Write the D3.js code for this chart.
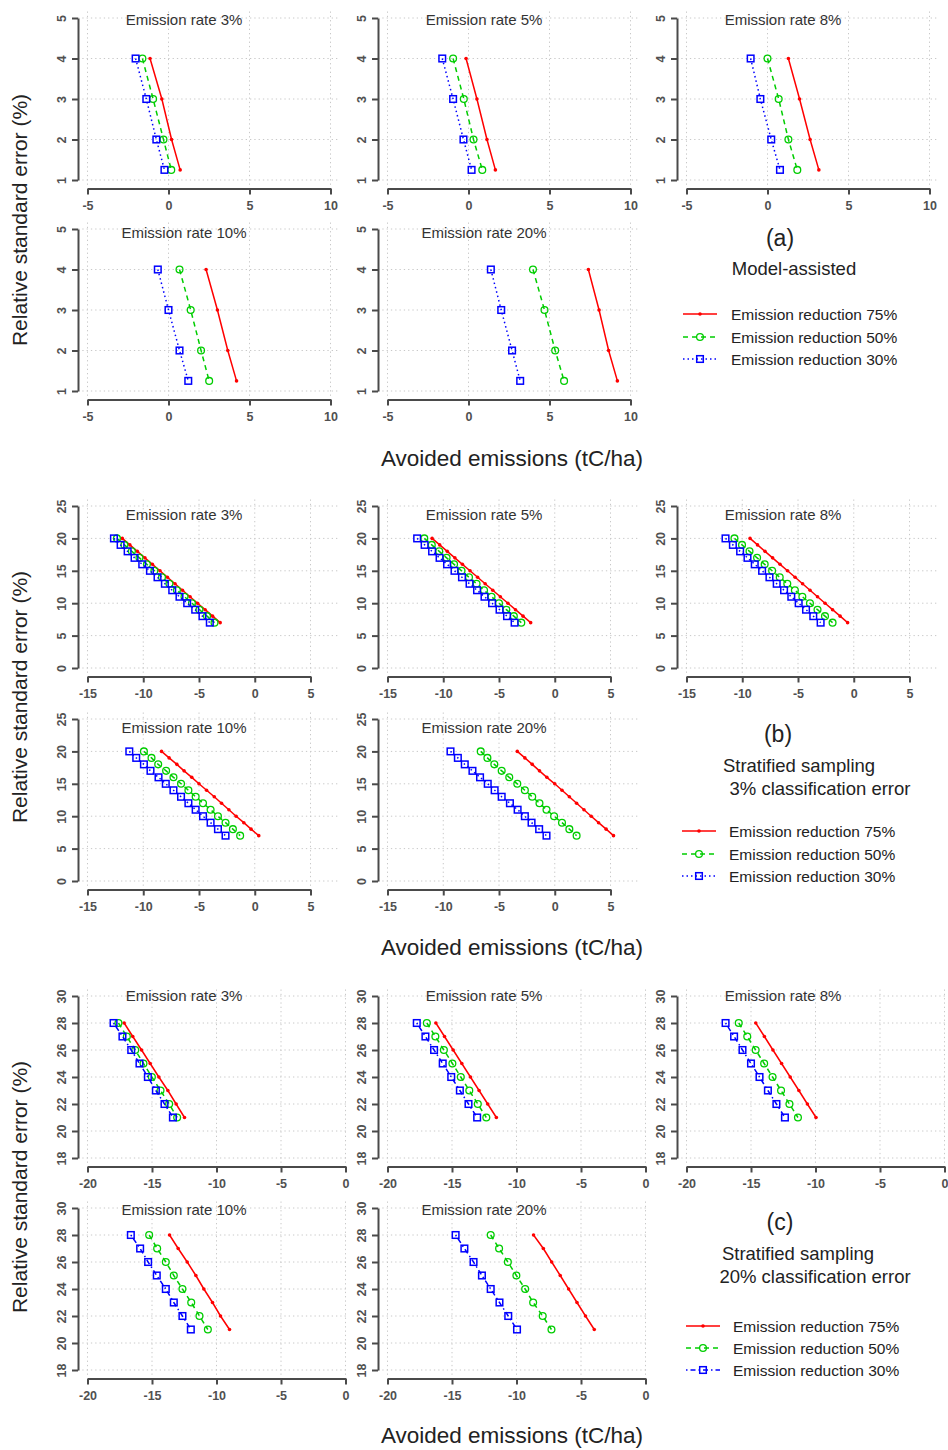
<!DOCTYPE html>
<html>
<head>
<meta charset="utf-8">
<script src="https://cdn.jsdelivr.net/npm/d3@7"></script>
<style>
body { margin: 0; background: #fff; }
svg text { font-family: "Liberation Sans", Arial, sans-serif; }
</style>
</head>
<body>
<svg id="chart" width="948" height="1450"></svg>
<script>
// emission rate titles, one per sub-plot
var rateTitles = ["Emission rate 3%", "Emission rate 5%", "Emission rate 8%",
                  "Emission rate 10%", "Emission rate 20%"];
var seriesNames = ["Emission reduction 75%", "Emission reduction 50%", "Emission reduction 30%"];

// (a) model-assisted
var aRse = [4, 3, 2, 1.25];
var aXTicks = [-5, 0, 5, 10];
var aYTicks = [1, 2, 3, 4, 5];
var aRed = [
    [-1.14, -0.41, 0.19, 0.72],
    [-0.15, 0.52, 1.14, 1.66],
    [1.29, 1.98, 2.63, 3.17],
    [2.32, 3.02, 3.66, 4.20],
    [7.40, 8.06, 8.65, 9.19]];
var aGreen = [
    [-1.61, -0.95, -0.31, 0.17],
    [-0.95, -0.29, 0.31, 0.85],
    [0.00, 0.69, 1.29, 1.84],
    [0.68, 1.37, 2.01, 2.51],
    [3.98, 4.69, 5.35, 5.90]];
var aBlue = [
    [-2.03, -1.37, -0.75, -0.25],
    [-1.62, -0.95, -0.31, 0.19],
    [-1.04, -0.44, 0.23, 0.77],
    [-0.66, 0.00, 0.68, 1.22],
    [1.38, 2.02, 2.69, 3.19]];

// (b) stratified sampling, 3% classification error
var bRse = [20, 19, 18, 17, 16, 15, 14, 13, 12, 11, 10, 9, 8, 7];
var bXTicks = [-15, -10, -5, 0, 5];
var bYTicks = [0, 5, 10, 15, 20, 25];
var bRed = [
    [-11.88, -11.20, -10.53, -9.85, -9.18, -8.50, -7.83, -7.15, -6.48, -5.80, -5.13, -4.45, -3.78, -3.10],
    [-11.00, -10.32, -9.64, -8.96, -8.28, -7.60, -6.92, -6.24, -5.56, -4.88, -4.20, -3.52, -2.84, -2.16],
    [-9.30, -8.63, -7.96, -7.28, -6.61, -5.94, -5.26, -4.59, -3.92, -3.25, -2.57, -1.90, -1.22, -0.55],
    [-8.36, -7.68, -6.99, -6.34, -5.65, -5.00, -4.32, -3.63, -2.98, -2.32, -1.67, -0.98, -0.33, 0.36],
    [-3.36, -2.68, -2.02, -1.37, -0.71, 0.00, 0.65, 1.31, 1.96, 2.62, 3.27, 3.93, 4.61, 5.27]];
var bGreen = [
    [-12.36, -11.69, -11.02, -10.34, -9.67, -9.00, -8.32, -7.65, -6.98, -6.30, -5.63, -4.96, -4.28, -3.61],
    [-11.70, -11.03, -10.36, -9.70, -9.03, -8.36, -7.69, -7.01, -6.34, -5.67, -5.00, -4.34, -3.67, -3.00],
    [-10.70, -10.02, -9.35, -8.67, -7.99, -7.32, -6.64, -5.96, -5.28, -4.61, -3.93, -3.25, -2.58, -1.90],
    [-9.94, -9.26, -8.66, -7.95, -7.29, -6.61, -5.95, -5.30, -4.64, -3.96, -3.30, -2.62, -1.96, -1.31],
    [-6.64, -6.04, -5.42, -4.76, -4.08, -3.36, -2.68, -2.02, -1.37, -0.74, -0.06, 0.65, 1.31, 1.96]];
var bBlue = [
    [-12.63, -12.03, -11.40, -10.78, -10.09, -9.40, -8.72, -8.06, -7.40, -6.75, -6.06, -5.34, -4.69, -4.03],
    [-12.34, -11.67, -11.00, -10.33, -9.66, -8.99, -8.32, -7.64, -6.97, -6.30, -5.62, -4.95, -4.28, -3.60],
    [-11.50, -10.84, -10.19, -9.53, -8.88, -8.22, -7.56, -6.91, -6.25, -5.60, -4.94, -4.28, -3.63, -2.97],
    [-11.25, -10.63, -9.94, -9.35, -8.63, -7.98, -7.29, -6.61, -5.95, -5.30, -4.64, -3.96, -3.30, -2.62],
    [-9.35, -8.69, -8.07, -7.38, -6.70, -6.01, -5.39, -4.76, -4.02, -3.33, -2.68, -2.08, -1.40, -0.74]];

// (c) stratified sampling, 20% classification error
var cRse = [28, 27, 26, 25, 24, 23, 22, 21];
var cXTicks = [-20, -15, -10, -5, 0];
var cYTicks = [18, 20, 22, 24, 26, 28, 30];
var cRed = [
    [-17.16, -16.49, -15.81, -15.14, -14.47, -13.77, -13.13, -12.48],
    [-16.25, -15.58, -14.91, -14.24, -13.57, -12.90, -12.23, -11.56],
    [-14.63, -13.96, -13.30, -12.63, -11.96, -11.29, -10.63, -9.96],
    [-13.64, -12.97, -12.27, -11.60, -10.98, -10.31, -9.69, -8.99],
    [-8.68, -7.92, -7.27, -6.61, -5.96, -5.31, -4.65, -3.97]];
var cGreen = [
    [-17.60, -16.95, -16.30, -15.66, -15.01, -14.34, -13.67, -13.05],
    [-16.95, -16.29, -15.63, -14.97, -14.32, -13.66, -13.00, -12.34],
    [-15.95, -15.29, -14.64, -13.98, -13.33, -12.67, -12.02, -11.36],
    [-15.22, -14.60, -13.93, -13.31, -12.64, -11.96, -11.32, -10.67],
    [-12.00, -11.35, -10.67, -10.01, -9.33, -8.71, -7.97, -7.29]];
var cBlue = [
    [-17.98, -17.29, -16.61, -15.97, -15.32, -14.70, -14.03, -13.38],
    [-17.73, -17.06, -16.39, -15.72, -15.06, -14.39, -13.72, -13.05],
    [-16.97, -16.31, -15.66, -15.00, -14.34, -13.69, -13.03, -12.37],
    [-16.64, -15.92, -15.30, -14.63, -13.93, -13.31, -12.64, -11.99],
    [-14.72, -14.04, -13.33, -12.68, -12.00, -11.32, -10.64, -9.96]];


var svg = d3.select("#chart");
var colX = [78, 378, 677];
var ySpan = 162;

var styles = [
    {color: "#ff0000", dash: null, mark: "dot"},
    {color: "#00cd00", dash: "5,4", mark: "circle"},
    {color: "#0000ff", dash: "1.5,3", mark: "square"}];

var panels = [
    {rows: [18, 229], rse: aRse, xt: aXTicks, yt: aYTicks, xSpan: 243, gridR: 262,
     series: [aRed, aGreen, aBlue], titleY: [20, 233],
     ylab: 220, xlab: 458, blueDash: "1.5,3",
     caps: [["(a)", 780, 238, 23], ["Model-assisted", 794, 269, 18.5]],
     legend: {x: 683, tx: 731, y: [314, 337, 359]}},
    {rows: [506, 719], rse: bRse, xt: bXTicks, yt: bYTicks, xSpan: 223, gridR: 262,
     series: [bRed, bGreen, bBlue], titleY: [515, 728],
     ylab: 697, xlab: 947, blueDash: "1.5,3",
     caps: [["(b)", 778, 734, 23], ["Stratified sampling", 799, 766, 18.5],
            ["3% classification error", 820, 789, 18.5]],
     legend: {x: 682, tx: 729, y: [831, 854, 876]}},
    {rows: [996, 1208], rse: cRse, xt: cXTicks, yt: cYTicks, xSpan: 258, gridR: 270,
     series: [cRed, cGreen, cBlue], titleY: [996, 1210],
     ylab: 1187, xlab: 1435, blueDash: "1.5,3,5,3",
     caps: [["(c)", 780, 1222, 23], ["Stratified sampling", 798, 1254, 18.5],
            ["20% classification error", 815, 1277, 18.5]],
     legend: {x: 686, tx: 733, y: [1326, 1348, 1370]}}];

function plain(d) { return String(d); }

function drawMarker(g, kind, cx, cy, color) {
    if (kind === "dot") {
        g.append("circle").attr("cx", cx).attr("cy", cy).attr("r", 1.8)
            .attr("fill", color);
    } else if (kind === "circle") {
        g.append("circle").attr("cx", cx).attr("cy", cy).attr("r", 3.4)
            .attr("fill", "none").attr("stroke", color).attr("stroke-width", 1.3);
    } else {
        g.append("rect").attr("x", cx - 3.3).attr("y", cy - 3.3)
            .attr("width", 6.6).attr("height", 6.6)
            .attr("fill", "none").attr("stroke", color).attr("stroke-width", 1.5);
    }
}

function drawSubplot(p, k) {
    var row = k < 3 ? 0 : 1, col = k % 3;
    var ox = colX[col], top = p.rows[row];
    var g = svg.append("g");
    var x = d3.scaleLinear()
        .domain([p.xt[0], p.xt[p.xt.length - 1]])
        .range([ox + 9.5, ox + 9.5 + p.xSpan]);
    var y = d3.scaleLinear()
        .domain([p.yt[0], p.yt[p.yt.length - 1]])
        .range([top + ySpan, top]);

    // dotted grid
    g.selectAll(".vg").data(p.xt).enter().append("line")
        .attr("x1", function (d) { return x(d); }).attr("x2", function (d) { return x(d); })
        .attr("y1", top - 6.5).attr("y2", top + ySpan + 6.5)
        .attr("stroke", "#c8c8c8").attr("stroke-dasharray", "1.3,3");
    g.selectAll(".hg").data(p.yt).enter().append("line")
        .attr("x1", ox).attr("x2", ox + p.gridR)
        .attr("y1", function (d) { return y(d); }).attr("y2", function (d) { return y(d); })
        .attr("stroke", "#c8c8c8").attr("stroke-dasharray", "1.3,3");

    // axes
    var ya = g.append("g").attr("transform", "translate(" + ox + ",0)")
        .call(d3.axisLeft(y).tickValues(p.yt).tickFormat(plain)
            .tickSizeInner(6).tickSizeOuter(0));
    ya.selectAll("text").attr("transform", "rotate(-90)")
        .attr("x", 0).attr("y", -12).attr("dy", 0).style("text-anchor", "middle");
    var xa = g.append("g").attr("transform", "translate(0," + (top + ySpan + 8.5) + ")")
        .call(d3.axisBottom(x).tickValues(p.xt).tickFormat(plain)
            .tickSizeInner(6).tickSizeOuter(0));
    xa.selectAll("text").attr("y", 13);
    [ya, xa].forEach(function (a) {
        a.select(".domain").attr("stroke", "#4a4a4a").attr("stroke-width", 2);
        a.selectAll(".tick line").attr("stroke", "#4a4a4a").attr("stroke-width", 2);
        a.selectAll("text").attr("fill", "#505050").style("font-size", "12.5px")
            .style("font-weight", "bold")
            .style("font-family", "\"Liberation Sans\", Arial, sans-serif");
    });

    g.append("text").attr("x", ox + 106).attr("y", p.titleY[row] + 5)
        .attr("text-anchor", "middle").attr("fill", "#333")
        .style("font-size", "15px").text(rateTitles[k]);

    // series
    p.series.forEach(function (s, j) {
        var st = styles[j];
        var pts = s[k].map(function (v, i) { return [x(v), y(p.rse[i])]; });
        g.append("path").attr("d", d3.line()(pts))
            .attr("fill", "none").attr("stroke", st.color).attr("stroke-width", 1.5)
            .attr("stroke-dasharray", j === 2 ? p.blueDash : st.dash);
        pts.forEach(function (pt) { drawMarker(g, st.mark, pt[0], pt[1], st.color); });
    });
}

function drawLegend(p) {
    var lg = svg.append("g");
    p.caps.forEach(function (c) {
        lg.append("text").attr("x", c[1]).attr("y", c[2] + c[3] * 0.35)
            .attr("text-anchor", "middle").attr("fill", "#222")
            .style("font-size", c[3] + "px").text(c[0]);
    });
    seriesNames.forEach(function (name, j) {
        var st = styles[j], yy = p.legend.y[j];
        lg.append("line").attr("x1", p.legend.x).attr("x2", p.legend.x + 34)
            .attr("y1", yy).attr("y2", yy)
            .attr("stroke", st.color).attr("stroke-width", 1.5)
            .attr("stroke-dasharray", j === 2 ? p.blueDash : st.dash);
        drawMarker(lg, st.mark, p.legend.x + 17, yy, st.color);
        lg.append("text").attr("x", p.legend.tx).attr("y", yy + 5.5)
            .attr("fill", "#222").style("font-size", "15.5px").text(name);
    });
}

panels.forEach(function (p) {
    var k;
    for (k = 0; k < 5; k += 1) { drawSubplot(p, k); }
    drawLegend(p);
    svg.append("text").attr("transform", "translate(27," + p.ylab + ") rotate(-90)")
        .attr("text-anchor", "middle").attr("fill", "#222")
        .style("font-size", "21px").text("Relative standard error (%)");
    svg.append("text").attr("x", 512).attr("y", p.xlab + 7.5)
        .attr("text-anchor", "middle").attr("fill", "#222")
        .style("font-size", "22.5px").text("Avoided emissions (tC/ha)");
});
</script>
</body>
</html>
